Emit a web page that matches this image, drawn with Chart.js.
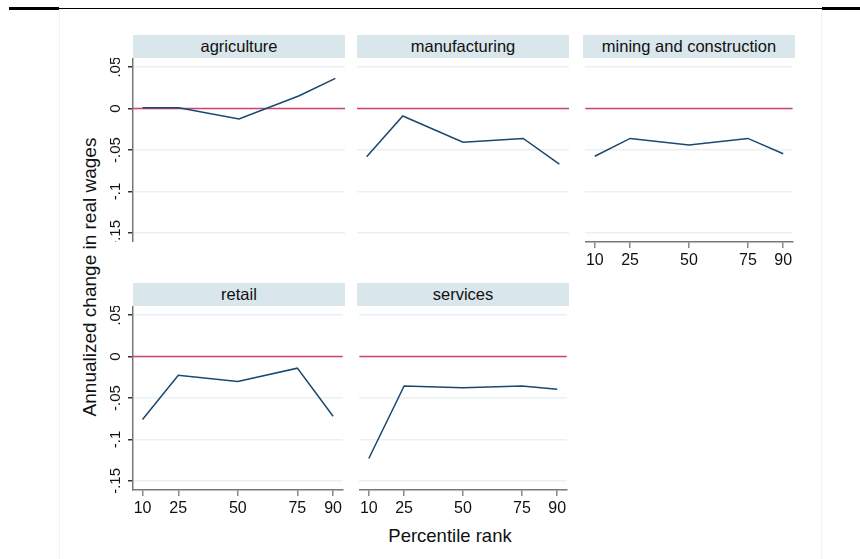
<!DOCTYPE html>
<html>
<head>
<meta charset="utf-8">
<script src="https://cdn.jsdelivr.net/npm/chart.js@4.4.0/dist/chart.umd.min.js"></script>
<style>
  body { margin: 0; background: #fff; font-family: Arial, "Liberation Sans", sans-serif; }
  #page { position: relative; width: 860px; height: 559px; overflow: hidden; }
  .strip { position: absolute; background: #d9e6eb; color: #111; font-size: 16.5px;
           text-align: center; line-height: 23px; height: 23px; }
  .panel { position: absolute; }
  .ytitle { position: absolute; left: 90px; top: 277px; transform: translate(-50%, -50%) rotate(-90deg);
            font-size: 19px; white-space: nowrap; color: #111; }
  .xtitle { position: absolute; left: 450px; top: 536px; transform: translate(-50%, -50%);
            font-size: 18.5px; white-space: nowrap; color: #111; }
</style>
</head>
<body>
<div id="page">
  <div style="position:absolute;left:9px;top:7px;width:50px;height:3px;background:#000"></div>
  <div style="position:absolute;left:59px;top:8px;width:763px;height:1px;background:#000"></div>
  <div style="position:absolute;left:822px;top:7px;width:38px;height:3px;background:#000"></div>
  <div style="position:absolute;left:59px;top:10px;width:763px;height:549px;border-left:1px solid #f3f3f3;border-right:1px solid #f3f3f3;box-sizing:border-box"></div>
  <div class="ytitle">Annualized change in real wages</div>
  <div class="xtitle">Percentile rank</div>
</div>
<script>
// percentile ranks on the x axis
const percentiles = [10, 25, 50, 75, 90];

// annualized change in real wages
const sectors = ["agriculture", "manufacturing", "mining and construction", "retail", "services"];
const agriculture = [0.001, 0.001, -0.0125, 0.0155, 0.0365];
const manufacturing = [-0.058, -0.009, -0.0405, -0.036, -0.067];
const mining = [-0.0575, -0.036, -0.044, -0.036, -0.0545];
const retail = [-0.076, -0.0225, -0.030, -0.014, -0.072];
const services = [-0.123, -0.0355, -0.0375, -0.0355, -0.0395];

const yTicks = [0.05, 0, -0.05, -0.1, -0.15];
const yTickLabels = [".05", "0", "-.05", "-.1", "-.15"];

const seriesList = [agriculture, manufacturing, mining, retail, services];

// panel placement: plot area left/top, which axes show
const panels = [
  { left: 133, top: 58, yAxis: true, xAxis: false },
  { left: 357, top: 58, yAxis: false, xAxis: false },
  { left: 583, top: 58, yAxis: false, xAxis: true },
  { left: 133, top: 306, yAxis: true, xAxis: true },
  { left: 357, top: 306, yAxis: false, xAxis: true },
];
const plotW = 212, plotH = 184, yAxisW = 53, xAxisH = 34;

// draws the red zero line and the rotated y tick labels
const extras = {
  id: "extras",
  beforeDatasetsDraw(chart) {
    const { ctx, chartArea } = chart;
    const y0 = chart.scales.y.getPixelForValue(0);
    ctx.save();
    ctx.strokeStyle = "#d2426a";
    ctx.lineWidth = 1.6;
    ctx.beginPath();
    ctx.moveTo(chartArea.left, y0);
    ctx.lineTo(chartArea.right, y0);
    ctx.stroke();
    ctx.restore();
  },
  afterDraw(chart, args, opts) {
    if (!opts.yLabels) return;
    const { ctx, chartArea } = chart;
    ctx.save();
    ctx.fillStyle = "#111";
    ctx.font = "15px Arial, 'Liberation Sans', sans-serif";
    ctx.textAlign = "center";
    ctx.textBaseline = "middle";
    yTicks.forEach((v, i) => {
      const y = chart.scales.y.getPixelForValue(v);
      ctx.save();
      ctx.translate(chartArea.left - 17, y);
      ctx.rotate(-Math.PI / 2);
      ctx.fillText(yTickLabels[i], 0, 0);
      ctx.restore();
    });
    ctx.restore();
  },
};

const page = document.getElementById("page");

panels.forEach((p, i) => {
  // header strip
  const strip = document.createElement("div");
  strip.className = "strip";
  strip.style.left = p.left + "px";
  strip.style.top = (p.top - 23) + "px";
  strip.style.width = plotW + "px";
  strip.textContent = sectors[i];
  page.appendChild(strip);

  const yw = p.yAxis ? yAxisW : 0;
  const xh = p.xAxis ? xAxisH : 0;
  const box = document.createElement("div");
  box.className = "panel";
  box.style.left = (p.left - yw) + "px";
  box.style.top = p.top + "px";
  box.style.width = (plotW + yw) + "px";
  box.style.height = (plotH + xh) + "px";
  const canvas = document.createElement("canvas");
  box.appendChild(canvas);
  page.appendChild(box);

  new Chart(canvas, {
    type: "line",
    data: {
      datasets: [
        {
          data: percentiles.map((x, k) => ({ x: x, y: seriesList[i][k] })),
          borderColor: "#1a476f",
          borderWidth: 1.5,
          pointRadius: 0,
          tension: 0,
        },
      ],
    },
    plugins: [extras],
    options: {
      responsive: true,
      maintainAspectRatio: false,
      animation: false,
      layout: { padding: 0 },
      plugins: {
        legend: { display: false },
        tooltip: { enabled: false },
        extras: { yLabels: p.yAxis },
      },
      scales: {
        x: {
          type: "linear",
          min: 6,
          max: 94,
          display: p.xAxis,
          afterBuildTicks: (s) => { s.ticks = percentiles.map((v) => ({ value: v })); },
          afterFit: (s) => { s.height = xh; },
          grid: { display: true, drawOnChartArea: false, drawTicks: true, tickLength: 6, tickColor: "#888", lineWidth: 1.5 },
          border: { display: true, color: "#777", width: 1.5 },
          ticks: {
            padding: 3,
            color: "#111",
            font: { size: 16, family: "Arial, 'Liberation Sans', sans-serif" },
            maxRotation: 0,
            autoSkip: false,
          },
        },
        y: {
          min: -0.161,
          max: 0.061,
          afterBuildTicks: (s) => { s.ticks = yTicks.map((v) => ({ value: v })); },
          afterFit: (s) => { s.width = yw; },
          grid: {
            color: "#e9f1f3",
            lineWidth: 1.5,
            drawTicks: p.yAxis,
            tickLength: 5,
            tickColor: "#333",
          },
          border: { display: p.yAxis, color: "#777", width: 1.5 },
          ticks: { display: false },
        },
      },
    },
  });
});
</script>
</body>
</html>
